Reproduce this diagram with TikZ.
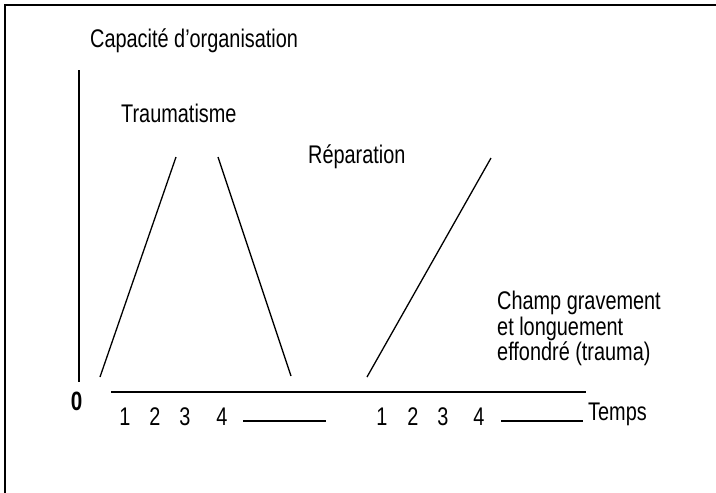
\documentclass[tikz,border=0pt]{standalone}
\usepackage{fontspec}
\setmainfont{Liberation Sans}[FakeStretch=0.78,BoldFont={Liberation Sans Bold}]
\newfontfamily\zerofont{Liberation Sans Bold}[FakeStretch=0.78]
\begin{document}
\begin{tikzpicture}[x=1pt,y=-1pt,
  lbl/.style={anchor=base west,inner sep=0pt,font=\fontsize{25.5}{25.5}\selectfont},
  num/.style={anchor=base,inner sep=0pt,font=\fontsize{25.5}{25.5}\selectfont},
  axis/.style={line width=1.7pt},
  trend/.style={line width=1.3pt},
  frame/.style={line width=2pt}]
\useasboundingbox (0,0) rectangle (716,493);
% frame
\coordinate (fb) at (5,493);
\coordinate (fc) at (5,5);
\coordinate (fr) at (716,5);
\draw[frame] (fb) -- (fc) -- (fr);
% labels
\node[lbl] (cap) at (90,47) {Capacité d’organisation};
\node[lbl] (trau) at (121,122) {Traumatisme};
\node[lbl] (rep) at (308,163) {Réparation};
\node[lbl,align=left,anchor=north west] (champ) at (497,291) {Champ gravement\\et longuement\\effondré (trauma)};
\node[anchor=base,inner sep=0pt,font=\fontsize{26.5}{27}\selectfont\zerofont] (zero) at (76.5,410.5) {0};
% axes
\coordinate (vt) at (79,70);
\coordinate (vb) at (79,382);
\draw[axis] (vt) -- (vb);
\coordinate (hl) at (111,392);
\coordinate (hr) at (586,392);
\draw[axis] (hl) -- (hr);
% ticks numbers
\foreach \n/\x in {1/125,2/155,3/185,4/222}{\node[num] (a\n) at (\x,425) {\n};}
\foreach \n/\x in {1/382,2/413,3/443,4/479}{\node[num] (b\n) at (\x,425) {\n};}
\coordinate (s1a) at (243,421);
\coordinate (s1b) at (326,421);
\draw[line width=1.5pt] (s1a) -- (s1b);
\coordinate (s2a) at (501,421);
\coordinate (s2b) at (583,421);
\draw[line width=1.5pt] (s2a) -- (s2b);
\node[lbl] (temps) at (588,420) {Temps};
% trend lines
\coordinate (l1a) at (100,377);
\coordinate (l1b) at (176,157);
\draw[trend] (l1a) -- (l1b);
\coordinate (l2a) at (218,157);
\coordinate (l2b) at (291,376);
\draw[trend] (l2a) -- (l2b);
\coordinate (l3a) at (367,377);
\coordinate (l3b) at (491,158);
\draw[trend] (l3a) -- (l3b);
\end{tikzpicture}
\end{document}
